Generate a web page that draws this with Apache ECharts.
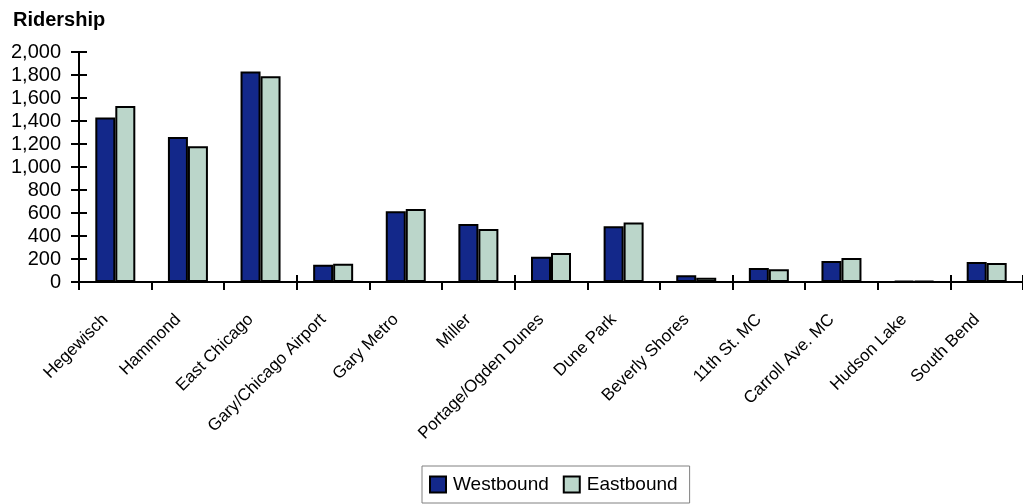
<!DOCTYPE html>
<html>
<head>
<meta charset="utf-8">
<script src="https://cdn.jsdelivr.net/npm/echarts@6/dist/echarts.min.js"></script>
<style>
html,body{margin:0;padding:0;background:#fff;}
#chart{width:1023px;height:504px;}
</style>
</head>
<body>
<div id="chart"></div>
<script>
var categories = ["Hegewisch","Hammond","East Chicago","Gary/Chicago Airport","Gary Metro","Miller","Portage/Ogden Dunes","Dune Park","Beverly Shores","11th St. MC","Carroll Ave. MC","Hudson Lake","South Bend"];
var westbound = [1430,1260,1830,150,615,505,220,485,58,122,182,10,175];
var eastbound = [1530,1180,1790,158,635,460,252,517,36,110,208,8,165];
var seriesNames = ["Westbound","Eastbound"];
var yTitle = "Ridership";

var FONT = "Liberation Sans, Arial, sans-serif";
var chart = echarts.init(document.getElementById('chart'), null, {renderer:'canvas'});
chart.setOption({
  animation:false,
  backgroundColor:'#fff',
  title:{text:yTitle,left:8,top:5,textStyle:{fontFamily:FONT,fontSize:20,fontWeight:'bold',color:'#000'}},
  grid:{left:79,top:52,width:945,height:230},
  legend:{
    data:seriesNames,left:422,top:466,
    icon:'rect',
    itemWidth:16,itemHeight:16,itemGap:14,
    padding:[9,12,9,7],
    borderColor:'#808080',borderWidth:1,
    textStyle:{fontFamily:FONT,fontSize:19,color:'#000',padding:[0,0,0,2]}
  },
  xAxis:[{
    type:'category',data:categories,
    axisLine:{lineStyle:{color:'#000',width:2}},
    axisTick:{show:true,length:8,lineStyle:{color:'#000',width:2}},
    axisLabel:{rotate:45,fontFamily:FONT,fontSize:17,color:'#000',margin:25,interval:0,padding:[0,14,0,0]}
  },{
    type:'category',data:categories,position:'bottom',
    axisLine:{show:false},
    axisTick:{show:true,inside:true,length:7,lineStyle:{color:'#000',width:2}},
    axisLabel:{show:false}
  }],
  yAxis:[{
    type:'value',min:0,max:2000,interval:200,
    axisLine:{show:true,lineStyle:{color:'#000',width:2}},
    axisTick:{show:true,length:8,lineStyle:{color:'#000',width:2}},
    splitLine:{show:false},
    axisLabel:{fontFamily:FONT,fontSize:20,color:'#000',margin:18,
      formatter:function(v){return v.toLocaleString('en-US');}}
  },{
    type:'value',min:0,max:2000,interval:200,position:'left',
    axisLine:{show:false},
    axisTick:{show:true,inside:true,length:8,lineStyle:{color:'#000',width:2}},
    splitLine:{show:false},axisLabel:{show:false}
  }],
  series:[{
    name:seriesNames[0],type:'bar',data:westbound,barWidth:20,barGap:'0%',
    itemStyle:{color:'#13288A',borderColor:'#000',borderWidth:2}
  },{
    name:seriesNames[1],type:'bar',data:eastbound,barWidth:20,barGap:'0%',
    itemStyle:{color:'#BBD6CA',borderColor:'#000',borderWidth:2}
  }]
});
</script>
</body>
</html>
